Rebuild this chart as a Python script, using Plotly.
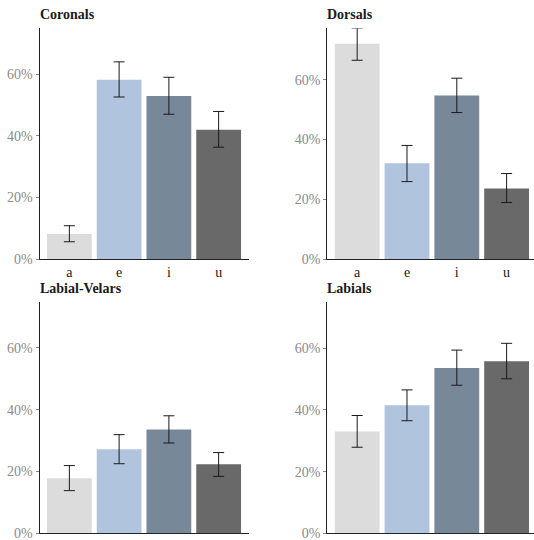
import plotly.graph_objects as go

vowels = ["a", "e", "i", "u"]
colors = ["#dcdcdc", "#b0c4de", "#778899", "#696969"]

panels = ["Coronals", "Dorsals", "Labial-Velars", "Labials"]

coronals = [8.1, 58.2, 52.9, 42.0]
coronals_lo = [5.6, 52.6, 47.0, 36.3]
coronals_hi = [10.8, 64.0, 59.0, 47.9]

dorsals = [72.0, 32.0, 54.7, 23.6]
dorsals_lo = [66.5, 25.9, 49.0, 18.9]
dorsals_hi = [77.3, 38.0, 60.5, 28.6]

labvel = [17.8, 27.2, 33.6, 22.3]
labvel_lo = [13.8, 22.5, 29.2, 18.4]
labvel_hi = [21.9, 31.9, 38.0, 26.1]

labials = [33.0, 41.5, 53.6, 55.8]
labials_lo = [27.9, 36.5, 48.0, 50.1]
labials_hi = [38.2, 46.5, 59.4, 61.6]

y_max = [74.9, 77.2, 74.7, 74.9]
y_ticks = [0, 20, 40, 60]

data = [
    (coronals, coronals_lo, coronals_hi),
    (dorsals, dorsals_lo, dorsals_hi),
    (labvel, labvel_lo, labvel_hi),
    (labials, labials_lo, labials_hi),
]

W, H = 534, 540
# pixel geometry of panels (left, right, top, bottom)
cols = [(39.5, 248.5), (327.3, 534.0)]
rows = [(28.3, 259.0), (302.3, 533.3)]
xranges = [[-0.6, 3.6], [-0.6, 3.55]]

FONT = "Liberation Serif, serif"

fig = go.Figure()
for k, (name, (vals, lo, hi)) in enumerate(zip(panels, data)):
    r, c = divmod(k, 2)
    idx = "" if k == 0 else str(k + 1)
    x0, x1 = cols[c]
    y0, y1 = rows[r]
    fig.add_trace(go.Bar(
        x=vowels, y=vals,
        marker=dict(color=colors, line=dict(width=0)),
        error_y=dict(type="data", symmetric=False,
                     array=[h - v for h, v in zip(hi, vals)],
                     arrayminus=[v - l for v, l in zip(vals, lo)],
                     color="#1a1a1a", thickness=1, width=5.5),
        xaxis="x" + idx, yaxis="y" + idx, showlegend=False,
        hoverinfo="skip",
    ))
    fig.update_layout(**{
        "xaxis" + idx: dict(
            domain=[x0 / W, x1 / W], anchor="y" + idx,
            range=xranges[c], showgrid=False, zeroline=False,
            showline=True, linecolor="#222222", linewidth=1,
            ticks="", tickfont=dict(family=FONT, size=14, color="#1a1a1a"),
            ticklabeloverflow="allow",
            automargin=False, fixedrange=True,
        ),
        "yaxis" + idx: dict(
            domain=[1 - y1 / H, 1 - y0 / H], anchor="x" + idx,
            range=[0, y_max[k]], showgrid=False, zeroline=False,
            showline=True, linecolor="#222222", linewidth=1,
            tickvals=y_ticks, ticktext=[f"{t}%" for t in y_ticks],
            ticks="outside", ticklen=3, tickcolor="#888888",
            tickfont=dict(family=FONT, size=14, color="#8a8a8a"),
            ticklabeloverflow="allow",
            automargin=False, fixedrange=True,
        ),
    })
    fig.add_annotation(
        text=f"<b>{name}</b>", xref="paper", yref="paper",
        x=x0 / W, y=1 - (y0 - 4) / H, xanchor="left", yanchor="bottom",
        xshift=-2, showarrow=False,
        font=dict(family=FONT, size=14, color="#1a1a1a"),
    )

fig.update_layout(
    width=W, height=H,
    margin=dict(l=0, r=0, t=0, b=0, autoexpand=False),
    paper_bgcolor="white", plot_bgcolor="white",
    bargap=0.1,
)

fig.write_html(
    "out.html",
    config={"displayModeBar": False, "staticPlot": True},
    post_script=(
        "document.documentElement.style.margin='0';"
        "document.documentElement.style.overflow='hidden';"
        "document.body.style.margin='0';"
        "document.body.style.overflow='hidden';"
    ),
)
